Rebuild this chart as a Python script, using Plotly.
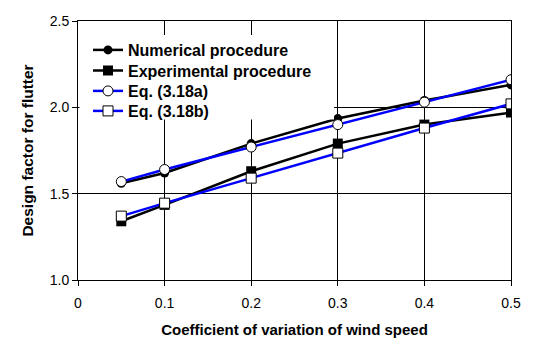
import plotly.graph_objects as go

x_vals = [0.05, 0.1, 0.2, 0.3, 0.4, 0.5]
numerical = [1.56, 1.62, 1.79, 1.935, 2.04, 2.13]
experimental = [1.34, 1.435, 1.63, 1.79, 1.90, 1.97]
eq_a = [1.57, 1.64, 1.77, 1.90, 2.03, 2.16]
eq_b = [1.37, 1.445, 1.59, 1.735, 1.88, 2.02]

names = ["Numerical procedure", "Experimental procedure", "Eq. (3.18a)", "Eq. (3.18b)"]

FONT = "Liberation Sans, Arial, sans-serif"

# plot area in pixels (for placing legend rows)
PL, PR, PT, PB = 78, 511, 21, 280
PW, PH = PR - PL, PB - PT


def py(px):
    return 1 - (px - PT) / PH


def pxx(px):
    return (px - PL) / PW


fig = go.Figure()
fig.add_trace(go.Scatter(x=x_vals, y=numerical, name=names[0], mode="lines+markers",
                         legend="legend",
                         line=dict(color="black", width=2.5),
                         marker=dict(symbol="circle", size=9, color="black")))
fig.add_trace(go.Scatter(x=x_vals, y=experimental, name=names[1], mode="lines+markers",
                         legend="legend2",
                         line=dict(color="black", width=2.5),
                         marker=dict(symbol="square", size=10, color="black")))
fig.add_trace(go.Scatter(x=x_vals, y=eq_a, name=names[2], mode="lines+markers",
                         legend="legend3",
                         line=dict(color="#0000ff", width=2.5),
                         marker=dict(symbol="circle", size=10, color="white",
                                     line=dict(color="black", width=1))))
fig.add_trace(go.Scatter(x=x_vals, y=eq_b, name=names[3], mode="lines+markers",
                         legend="legend4",
                         line=dict(color="#0000ff", width=2.5),
                         marker=dict(symbol="square", size=10, color="white",
                                     line=dict(color="black", width=1))))

row_centers = [47, 67.5, 88, 108]
leg_common = dict(xanchor="left", yanchor="top", bgcolor="rgba(0,0,0,0)", borderwidth=0,
                  font=dict(family=FONT, size=16, weight="bold"),
                  itemwidth=30, itemsizing="trace")
legends = {}
for i, c in enumerate(row_centers):
    key = "legend" if i == 0 else f"legend{i+1}"
    legends[key] = dict(x=pxx(88), y=py(c - 14), **leg_common)

fig.update_layout(
    width=553, height=353,
    margin=dict(l=PL, r=553 - PR, t=PT, b=353 - PB),
    paper_bgcolor="white", plot_bgcolor="white",
    font=dict(family=FONT, color="black", size=14),
    showlegend=True,
    **legends,
    shapes=[dict(type="rect", xref="paper", yref="paper", layer="above",
                 x0=pxx(79.5), x1=pxx(334), y0=py(119.5), y1=py(35),
                 fillcolor="white", line=dict(width=0))],
    xaxis=dict(range=[0, 0.5], dtick=0.1, tick0=0,
               showline=True, mirror=True, linecolor="black", linewidth=1,
               showgrid=True, gridcolor="black", gridwidth=1, zeroline=False,
               ticks="outside", ticklen=5, tickcolor="black",
               tickfont=dict(size=14), ticklabelstandoff=5,
               title=dict(text="Coefficient of variation of wind speed",
                          font=dict(size=15, weight="bold"), standoff=14)),
    yaxis=dict(range=[1.0, 2.5], dtick=0.5, tick0=1.0, tickformat=".1f",
               showline=True, mirror=True, linecolor="black", linewidth=1,
               showgrid=True, gridcolor="black", gridwidth=1, zeroline=False,
               ticks="outside", ticklen=5, tickcolor="black",
               tickfont=dict(size=14),
               title=dict(text="Design factor for flutter",
                          font=dict(size=15.5, weight="bold"), standoff=12)),
)

fig.write_html("out.html")
